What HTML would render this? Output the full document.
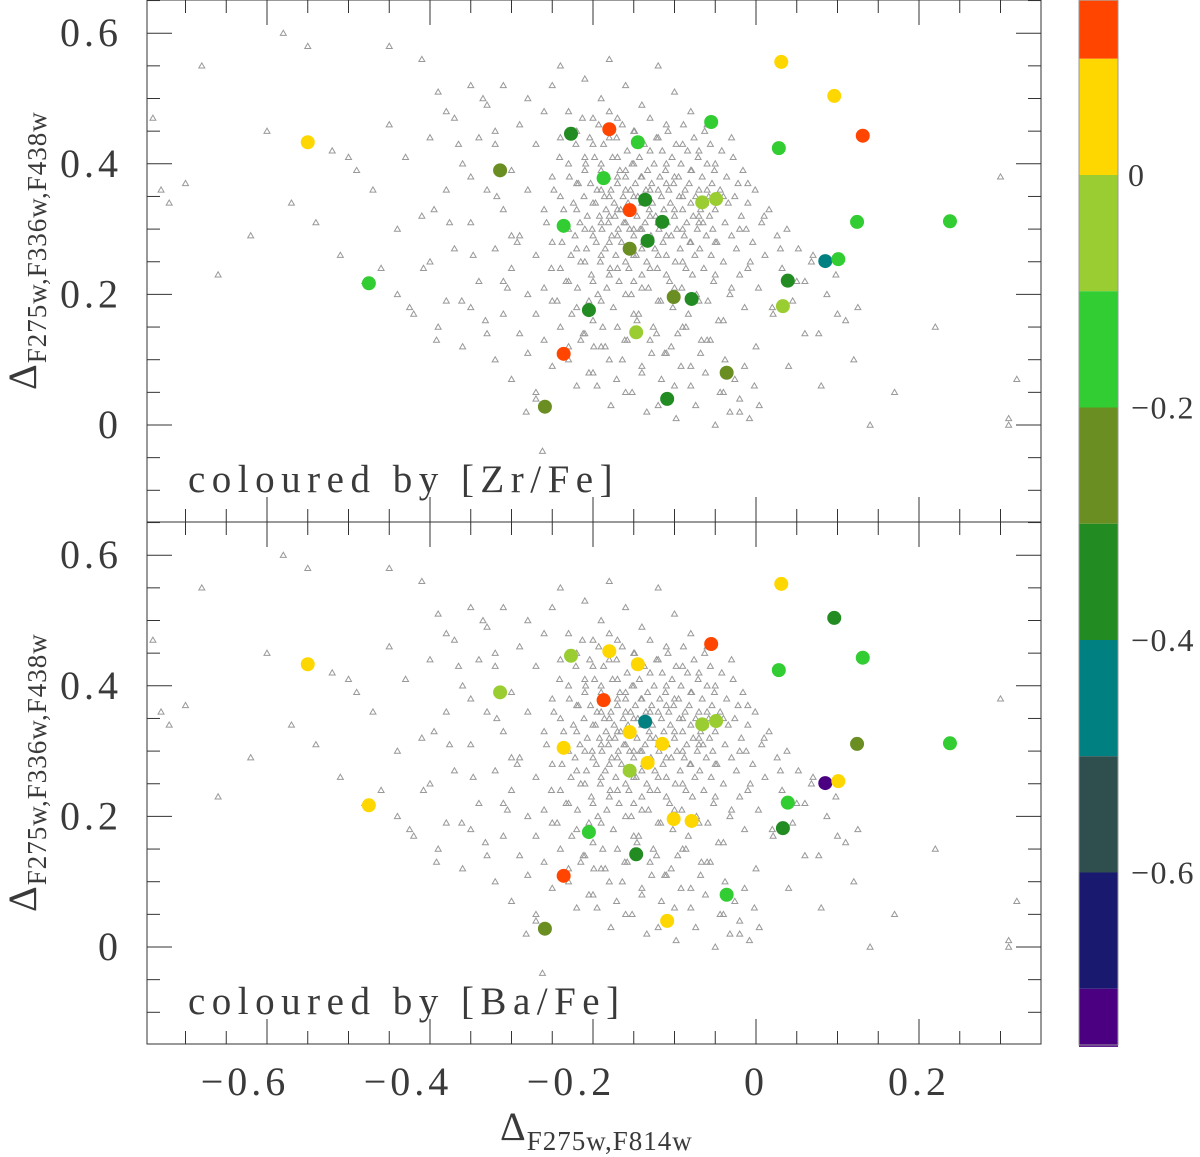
<!DOCTYPE html>
<html><head><meta charset="utf-8">
<style>
html,body{margin:0;padding:0;background:#fff;}
svg{display:block;}
text{font-family:"Liberation Serif",serif;fill:#3a3a3a;}
</style></head>
<body>
<svg id="chart" width="1200" height="1157" viewBox="0 0 1200 1157" xmlns="http://www.w3.org/2000/svg">
<g id="bg"><rect width="1200" height="1157" fill="#fff"/></g>
<g id="tri"></g>
<g id="dots"></g>
<g id="axes"></g>
<g id="cbar"></g>
</svg>
<script>
// ---- data ----
const starX = [-0.550,-0.475,-0.314,-0.227,-0.180,-0.145,-0.187,-0.236,-0.155,-0.136,-0.115,-0.133,-0.155,-0.055,-0.066,-0.049,0.031,0.096,0.131,0.028,0.124,0.238,0.085,0.101,0.039,0.033,-0.205,-0.101,-0.079,-0.147,-0.236,-0.036,-0.109,-0.259];
const starY = [0.433,0.217,0.390,0.446,0.453,0.433,0.378,0.305,0.329,0.345,0.311,0.282,0.270,0.464,0.341,0.346,0.556,0.504,0.443,0.424,0.311,0.312,0.251,0.254,0.221,0.182,0.176,0.196,0.193,0.142,0.109,0.080,0.040,0.028];
const zrFe = [0.05,-0.15,-0.25,-0.35,0.125,-0.15,-0.15,-0.15,0.125,-0.35,-0.35,-0.35,-0.25,-0.15,-0.05,-0.05,0.05,0.05,0.125,-0.15,-0.15,-0.15,-0.45,-0.15,-0.35,-0.05,-0.35,-0.25,-0.35,-0.05,0.125,-0.25,-0.35,-0.25];
const baFe = [0.05,0.05,-0.05,-0.05,0.05,0.05,0.125,0.05,0.05,-0.45,0.05,0.05,-0.05,0.125,-0.05,-0.05,0.05,-0.35,-0.15,-0.15,-0.25,-0.15,-0.725,0.05,-0.15,-0.35,-0.15,0.05,0.05,-0.35,0.125,-0.15,0.05,-0.25];
const panelTitles = ["coloured by [Zr/Fe]","coloured by [Ba/Fe]"];
const xTicks = [-0.6,-0.4,-0.2,0,0.2];
const yTicks = [0,0.2,0.4,0.6];
const cbTicks = [0,-0.2,-0.4,-0.6];
const cbEdges = [0.15,0.1,0.0,-0.1,-0.2,-0.3,-0.4,-0.5,-0.6,-0.7,-0.75];
const cbColors = ["#ff4500","#ffd700","#9acd32","#32cd32","#6b8e23","#228b22","#008080","#2f4f4f","#191970","#4b0082"];
const bgX = [-0.74,-0.73,-0.72,-0.70,-0.68,-0.66,-0.62,-0.60,-0.58,-0.57,-0.55,-0.54,-0.52,-0.51,-0.50,-0.49,-0.48,-0.47,-0.46,-0.45,-0.45,-0.44,-0.44,-0.43,-0.42,-0.41,-0.41,-0.40,-0.40,-0.39,-0.39,-0.38,-0.38,-0.37,-0.37,-0.36,-0.36,-0.35,-0.35,-0.35,-0.34,-0.34,-0.33,-0.33,-0.33,-0.32,-0.32,-0.32,-0.31,-0.31,-0.31,-0.30,-0.30,-0.30,-0.29,-0.29,-0.29,-0.28,-0.28,-0.28,-0.28,-0.27,-0.27,-0.27,-0.27,-0.26,-0.26,-0.26,-0.26,-0.25,-0.25,-0.25,-0.25,-0.25,-0.24,-0.24,-0.24,-0.24,-0.24,-0.23,-0.23,-0.23,-0.23,-0.23,-0.22,-0.22,-0.22,-0.22,-0.22,-0.22,-0.21,-0.21,-0.21,-0.21,-0.21,-0.21,-0.20,-0.20,-0.20,-0.20,-0.20,-0.20,-0.20,-0.19,-0.19,-0.19,-0.19,-0.19,-0.19,-0.19,-0.18,-0.18,-0.18,-0.18,-0.18,-0.18,-0.18,-0.17,-0.17,-0.17,-0.17,-0.17,-0.17,-0.17,-0.16,-0.16,-0.16,-0.16,-0.16,-0.16,-0.16,-0.15,-0.15,-0.15,-0.15,-0.15,-0.15,-0.15,-0.14,-0.14,-0.14,-0.14,-0.14,-0.14,-0.14,-0.13,-0.13,-0.13,-0.13,-0.13,-0.13,-0.12,-0.12,-0.12,-0.12,-0.12,-0.12,-0.11,-0.11,-0.11,-0.11,-0.11,-0.11,-0.10,-0.10,-0.10,-0.10,-0.10,-0.09,-0.09,-0.09,-0.09,-0.09,-0.08,-0.08,-0.08,-0.08,-0.07,-0.07,-0.07,-0.07,-0.06,-0.06,-0.06,-0.05,-0.05,-0.05,-0.04,-0.04,-0.04,-0.03,-0.03,-0.02,-0.02,-0.01,-0.01,0.00,0.01,0.02,0.03,0.04,0.05,0.06,0.07,0.08,0.10,0.12,0.14,0.17,0.22,0.30,0.31,0.31,0.32];
const bgY = [0.47,0.36,0.34,0.37,0.55,0.23,0.29,0.45,0.60,0.34,0.58,0.31,0.42,0.26,0.41,0.39,0.22,0.36,0.24,0.58,0.46,0.30,0.20,0.41,0.17,0.56,0.32,0.44,0.25,0.15,0.51,0.36,0.19,0.47,0.27,0.12,0.40,0.52,0.31,0.18,0.44,0.22,0.14,0.36,0.49,0.27,0.10,0.43,0.17,0.33,0.52,0.24,0.39,0.07,0.46,0.29,0.14,0.20,0.36,0.50,0.11,0.43,0.26,0.17,0.04,0.33,0.48,0.21,0.13,0.38,0.28,0.52,0.19,0.09,0.44,0.35,0.24,0.15,0.55,0.40,0.30,0.22,0.12,0.48,0.37,0.33,0.27,0.18,0.06,0.45,0.41,0.30,0.25,0.14,0.53,0.39,0.34,0.29,0.22,0.16,0.08,0.47,0.43,0.36,0.31,0.26,0.19,0.12,0.50,0.40,0.35,0.32,0.28,0.23,0.10,0.56,0.44,0.38,0.33,0.29,0.24,0.15,0.47,0.41,0.36,0.31,0.25,0.20,0.05,0.52,0.39,0.35,0.30,0.26,0.22,0.17,0.45,0.40,0.34,0.30,0.27,0.21,0.08,0.49,0.38,0.32,0.28,0.24,0.13,0.42,0.36,0.31,0.26,0.19,0.03,0.55,0.44,0.37,0.29,0.23,0.11,0.46,0.40,0.33,0.21,0.06,0.51,0.38,0.30,0.25,0.15,0.43,0.35,0.28,0.09,0.48,0.39,0.32,0.19,0.42,0.31,0.13,0.46,0.36,0.23,0.40,0.28,0.05,0.35,0.16,0.44,0.21,0.30,0.02,0.37,0.24,0.12,0.32,0.18,0.27,0.09,0.22,0.14,0.26,0.06,0.17,0.10,0.00,0.05,0.15,0.38,0.01,0.00,0.07,-0.04];
const coreX = [-0.262,-0.257,-0.251,-0.248,-0.244,-0.241,-0.238,-0.236,-0.233,-0.231,-0.229,-0.227,-0.226,-0.224,-0.222,-0.221,-0.219,-0.218,-0.216,-0.215,-0.213,-0.212,-0.211,-0.209,-0.208,-0.207,-0.205,-0.204,-0.203,-0.202,-0.201,-0.199,-0.198,-0.197,-0.196,-0.195,-0.194,-0.193,-0.192,-0.191,-0.190,-0.189,-0.188,-0.187,-0.186,-0.185,-0.184,-0.183,-0.182,-0.181,-0.180,-0.179,-0.178,-0.177,-0.176,-0.175,-0.174,-0.173,-0.172,-0.171,-0.170,-0.169,-0.168,-0.167,-0.166,-0.165,-0.164,-0.163,-0.162,-0.161,-0.160,-0.159,-0.158,-0.157,-0.156,-0.155,-0.154,-0.153,-0.152,-0.151,-0.150,-0.149,-0.148,-0.147,-0.146,-0.145,-0.144,-0.143,-0.142,-0.141,-0.140,-0.139,-0.138,-0.137,-0.136,-0.135,-0.134,-0.133,-0.132,-0.131,-0.130,-0.129,-0.128,-0.127,-0.126,-0.125,-0.124,-0.123,-0.122,-0.121,-0.120,-0.119,-0.118,-0.117,-0.116,-0.115,-0.114,-0.113,-0.112,-0.111,-0.110,-0.109,-0.108,-0.107,-0.106,-0.105,-0.104,-0.103,-0.102,-0.101,-0.100,-0.099,-0.098,-0.097,-0.096,-0.095,-0.094,-0.093,-0.092,-0.091,-0.090,-0.089,-0.088,-0.087,-0.086,-0.085,-0.084,-0.083,-0.082,-0.081,-0.080,-0.079,-0.078,-0.077,-0.076,-0.075,-0.074,-0.073,-0.072,-0.071,-0.070,-0.069,-0.068,-0.067,-0.066,-0.065,-0.064,-0.063,-0.062,-0.061,-0.060,-0.059,-0.058,-0.057,-0.056,-0.055,-0.054,-0.053,-0.052,-0.051,-0.050,-0.048,-0.046,-0.044,-0.042,-0.040,-0.038,-0.036,-0.034,-0.032,-0.030,-0.028,-0.026,-0.024,-0.022,-0.020,-0.018,-0.016,-0.014,-0.012,-0.010,-0.007,-0.004,-0.001,0.003,0.007,0.011,0.016,0.021,0.026,0.032,0.038,0.045,0.052,0.060,0.068,0.077,0.087,0.098,0.110,0.125,-0.230,-0.215,-0.205,-0.195,-0.185,-0.178,-0.171,-0.164,-0.158,-0.152,-0.146,-0.140,-0.134,-0.128,-0.122,-0.116,-0.110,-0.104,-0.098,-0.092,-0.086,-0.080,-0.074,-0.068,-0.062,-0.056,-0.050,-0.044,-0.038,-0.032,-0.026,-0.020,-0.014,-0.008,-0.002,0.004,-0.270,-0.282,-0.293,-0.305,-0.318,-0.332,-0.347,-0.361,-0.376,-0.392,-0.408,-0.425,-0.300,-0.310,-0.320,-0.335,-0.350,-0.365,-0.380,-0.395];
const coreY = [0.31,0.24,0.36,0.19,0.41,0.28,0.33,0.22,0.45,0.38,0.26,0.17,0.34,0.29,0.43,0.21,0.37,0.31,0.25,0.47,0.14,0.35,0.40,0.27,0.32,0.19,0.44,0.37,0.23,0.30,0.12,0.41,0.34,0.28,0.36,0.20,0.46,0.32,0.25,0.39,0.30,0.15,0.43,0.35,0.27,0.33,0.21,0.38,0.31,0.48,0.24,0.36,0.29,0.41,0.18,0.34,0.32,0.26,0.44,0.37,0.30,0.22,0.39,0.33,0.28,0.46,0.35,0.31,0.13,0.38,0.27,0.42,0.34,0.24,0.30,0.36,0.20,0.40,0.33,0.29,0.45,0.37,0.26,0.32,0.35,0.17,0.41,0.30,0.38,0.23,0.34,0.28,0.43,0.31,0.36,0.25,0.39,0.21,0.33,0.47,0.29,0.37,0.34,0.15,0.40,0.27,0.32,0.44,0.24,0.36,0.30,0.38,0.19,0.35,0.42,0.28,0.33,0.11,0.39,0.26,0.31,0.45,0.36,0.22,0.34,0.29,0.41,0.18,0.37,0.32,0.25,0.43,0.30,0.14,0.38,0.35,0.27,0.40,0.21,0.33,0.46,0.29,0.36,0.24,0.31,0.42,0.17,0.37,0.28,0.34,0.39,0.23,0.32,0.44,0.26,0.35,0.20,0.30,0.41,0.36,0.27,0.33,0.13,0.38,0.31,0.24,0.45,0.34,0.29,0.40,0.19,0.35,0.32,0.43,0.26,0.37,0.30,0.22,0.39,0.33,0.28,0.16,0.36,0.42,0.25,0.31,0.38,0.34,0.20,0.29,0.41,0.35,0.27,0.37,0.23,0.32,0.39,0.18,0.30,0.34,0.25,0.28,0.36,0.21,0.31,0.26,0.33,0.17,0.29,0.24,0.30,0.19,0.27,0.22,0.25,0.14,0.20,0.23,0.16,0.18,0.10,0.13,0.08,0.06,0.12,0.03,0.07,0.10,0.13,0.05,0.16,0.09,0.02,0.11,0.14,0.07,0.04,0.12,0.01,0.09,0.15,0.06,0.03,0.11,0.08,0.13,0.00,0.05,0.10,0.02,0.07,0.04,0.09,0.01,0.06,0.03,0.05,0.02,0.28,0.21,0.35,0.16,0.26,0.19,0.31,0.13,0.24,0.18,0.29,0.22,0.45,0.50,0.38,0.43,0.48,0.33,0.40,0.46];

// ---- geometry ----
const L=147,R=1041,XS=815,X0=756,YS=653;
const panelTop=[0,522],panelH=522;
const sx=v=>X0+XS*v;
const sy=(v,p)=>panelTop[p]+425-YS*v;
const NS="http://www.w3.org/2000/svg";
function mk(tag,attrs,parent){const e=document.createElementNS(NS,tag);for(const k in attrs)e.setAttribute(k,attrs[k]);parent.appendChild(e);return e;}
function colorFor(v){for(let i=0;i<cbColors.length;i++){if(v<=cbEdges[i]&&v>cbEdges[i+1])return cbColors[i];}return v>cbEdges[0]?cbColors[0]:cbColors[cbColors.length-1];}

const gT=document.getElementById('tri'),gD=document.getElementById('dots'),gA=document.getElementById('axes'),gC=document.getElementById('cbar');
const allX=bgX.concat(coreX),allY=bgY.concat(coreY);
for(let p=0;p<2;p++){
  for(let i=0;i<allX.length;i++){
    const x=sx(allX[i]),y=sy(allY[i],p);
    const t=mk('path',{d:`M${x} ${y-3}L${x+3} ${y+2.2}L${x-3} ${y+2.2}Z`,fill:'none',stroke:'#999','stroke-width':1},gT);
    
    
  }
  const vals=p===0?zrFe:baFe;
  for(let i=0;i<starX.length;i++){
    const c=mk('circle',{cx:sx(starX[i]),cy:sy(starY[i],p),r:7,fill:colorFor(vals[i])},gD);
    
    
  }
  const top=panelTop[p],bot=top+panelH;
  const fr=mk('rect',{x:L,y:top,width:R-L,height:panelH,fill:'none',stroke:'#333','stroke-width':1},gA);
  
  
  for(let k=-15;k<=7;k++){
    const v=k*0.05,x=sx(v);if(x<L||x>R)continue;
    const major=Math.abs(Math.round(v*100)%20)===0;const len=major?25:13;
    mk('line',{x1:x,y1:bot,x2:x,y2:bot-len,stroke:'#333'},gA);
    mk('line',{x1:x,y1:top,x2:x,y2:top+len,stroke:'#333'},gA);
  }
  for(let k=-3;k<=13;k++){
    const v=k*0.05,y=sy(v,p);if(y<top||y>bot)continue;
    const major=Math.abs(Math.round(v*100)%20)===0;const len=major?25:13;
    mk('line',{x1:L,y1:y,x2:L+len,y2:y,stroke:'#333'},gA);
    mk('line',{x1:R,y1:y,x2:R-len,y2:y,stroke:'#333'},gA);
  }
  yTicks.forEach(v=>{
    const t=mk('text',{x:122,y:sy(v,p)+13,'text-anchor':'end','font-size':40,'letter-spacing':4},gA);
    t.textContent=String(v);
    
    
  });
  const tt=mk('text',{x:188,y:top+492,'font-size':39,'letter-spacing':6.5},gA);
  tt.textContent=panelTitles[p];
  
  
  const ya=mk('text',{transform:`translate(36,${top+390}) rotate(-90)`,'font-size':40,'letter-spacing':1},gA);
  ya.innerHTML='Δ<tspan font-size="27" dy="10">F275w,F336w,F438w</tspan>';
  
  
}
xTicks.forEach(v=>{
  const t=mk('text',{x:sx(v)+(v<0?-22:0),y:1095,'text-anchor':'middle','font-size':40,'letter-spacing':4},gA);
  t.textContent=v<0?'−'+String(-v):String(v);
  
  
});
const xa=mk('text',{x:500,y:1140,'font-size':40,'letter-spacing':1},gA);
xa.innerHTML='Δ<tspan font-size="27" dy="10">F275w,F814w</tspan>';


const cby=v=>175-(v/0.2)*232.5;
for(let i=0;i<cbColors.length;i++){
  const y1=Math.max(0,cby(cbEdges[i])),y2=cby(cbEdges[i+1]);
  const r=mk('rect',{x:1079,y:y1,width:39,height:y2-y1,fill:cbColors[i]},gC);
  
  
}
mk('rect',{x:1079,y:0,width:39,height:1045,fill:'none',stroke:'#999','stroke-width':1},gC);
cbTicks.forEach(v=>{
  const t=mk('text',{x:v===0?1128:1131,y:cby(v)+11,'font-size':32,'letter-spacing':1.5},gC);
  t.textContent=v===0?'0':'−'+String(-v);
  
  
});
</script>
</body></html>
